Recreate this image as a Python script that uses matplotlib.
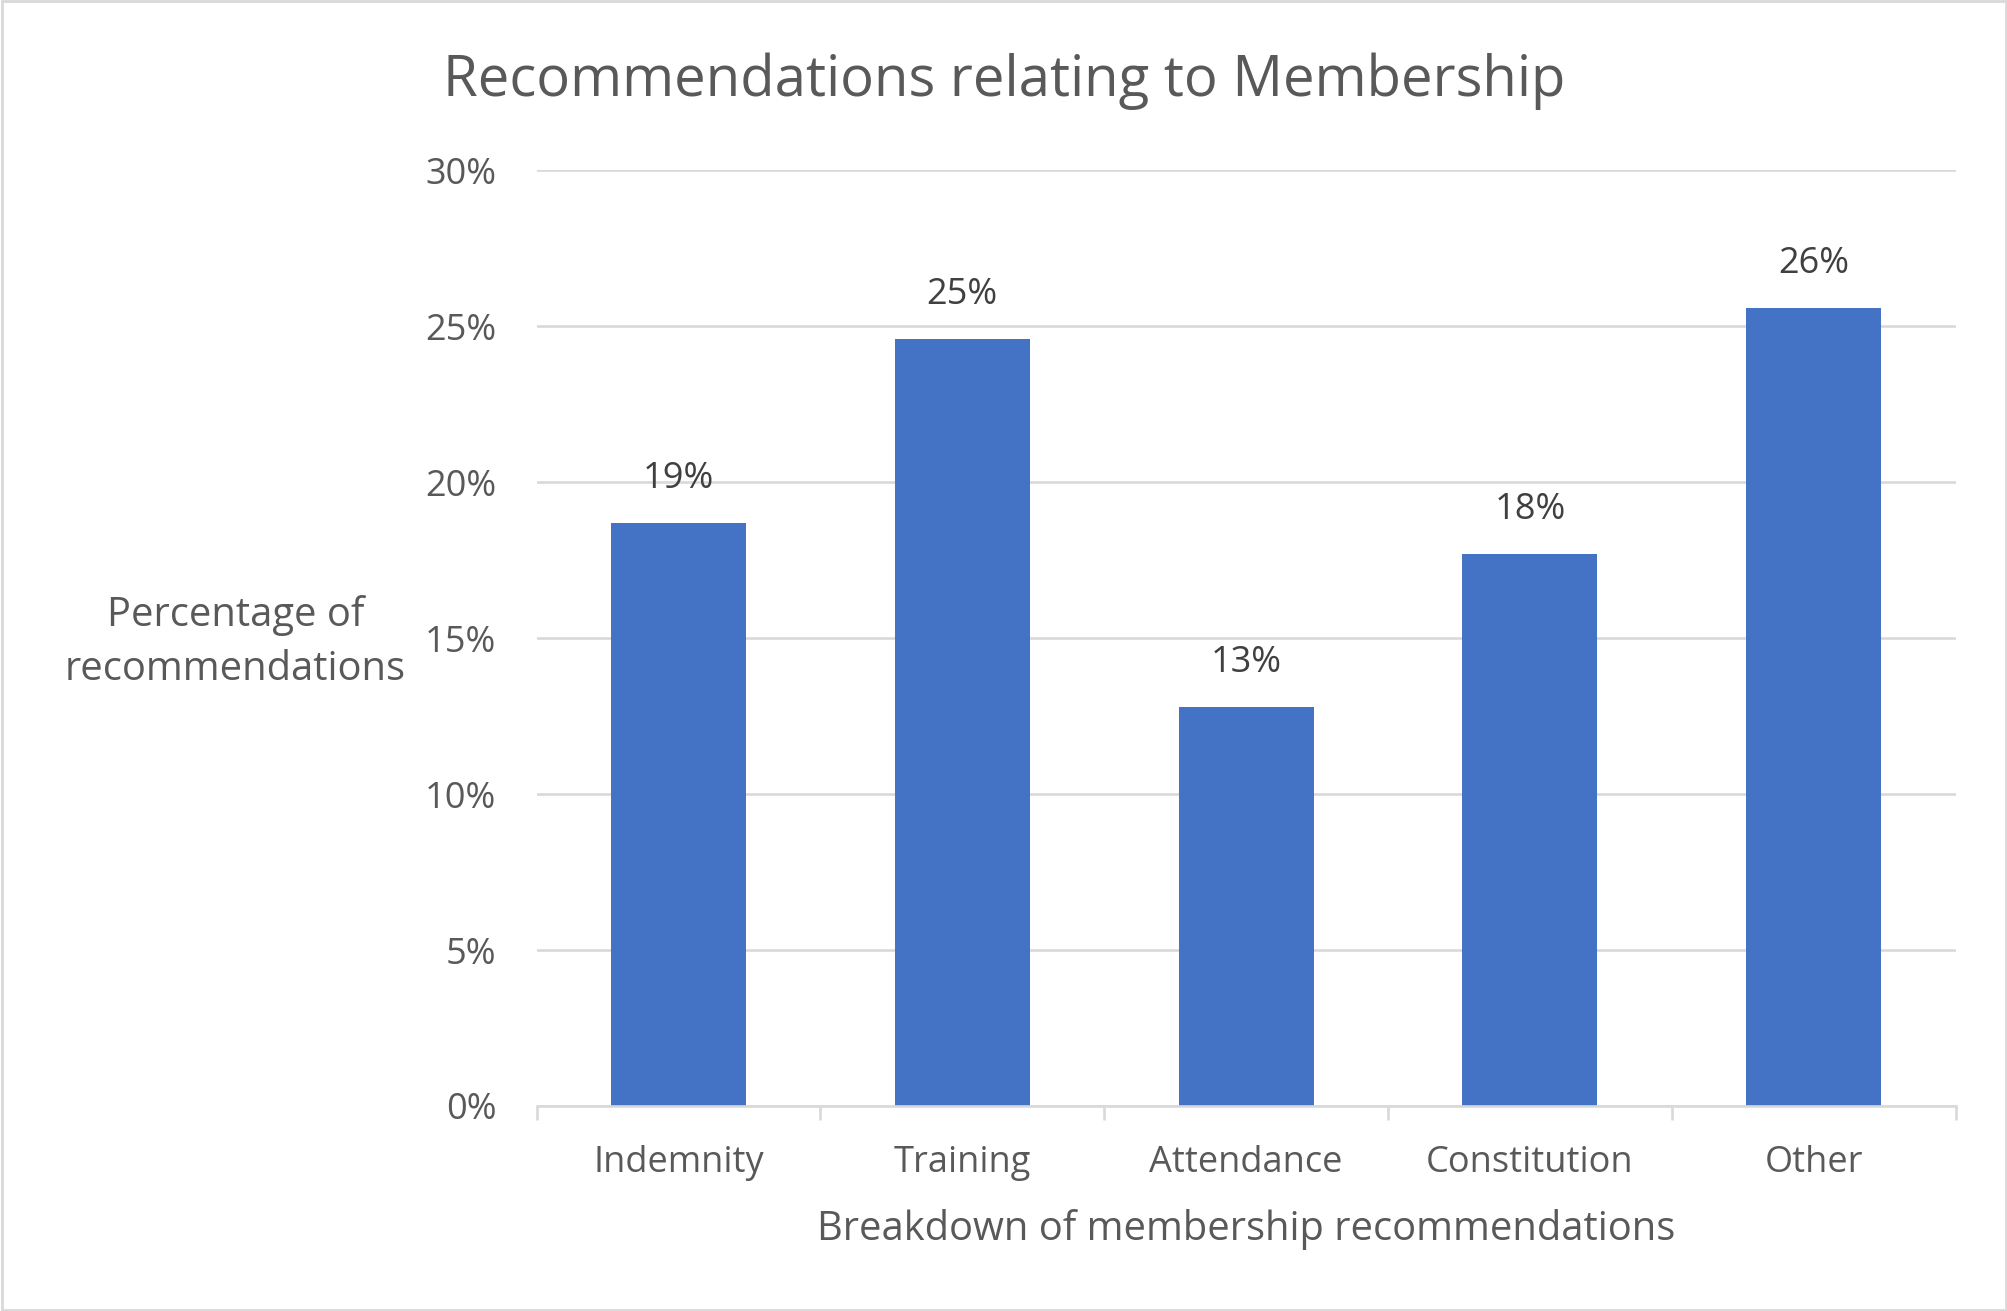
import matplotlib.pyplot as plt
from matplotlib.patches import Rectangle
import numpy as np

plt.rcParams['font.family'] = ['Open Sans', 'DejaVu Sans']

categories = ['Indemnity', 'Training', 'Attendance', 'Constitution', 'Other']
values = [18.7, 24.6, 12.8, 17.7, 25.6]
labels = ['19%', '25%', '13%', '18%', '26%']
y_ticks = [0, 5, 10, 15, 20, 25, 30]

text_grey = '#595959'
label_grey = '#404040'
grid_grey = '#D9D9D9'
bar_blue = '#4472C4'

fig = plt.figure(figsize=(20.08, 13.11), dpi=100)
ax = fig.add_axes([0.2672, 0.1564, 0.9739 - 0.2672, 0.8701 - 0.1564])

x = np.arange(len(categories))
bars = ax.bar(x, values, width=0.476, color=bar_blue, zorder=3)

for b, lab in zip(bars, labels):
    ax.annotate(lab, xy=(b.get_x() + b.get_width() / 2, b.get_height()),
                xytext=(0, 31.5), textcoords='offset points',
                ha='center', va='center', fontsize=26, color=label_grey)

ax.set_xlim(-0.5, len(categories) - 0.5)
ax.set_ylim(0, 30)
ax.set_yticks(y_ticks)
ax.set_yticklabels([f'{t}%' for t in y_ticks])
ax.yaxis.grid(True, color=grid_grey, linewidth=1.9, zorder=0)
ax.tick_params(axis='y', length=0, pad=29, labelsize=26, labelcolor=text_grey)

# category ticks sit between bars, excel style
ax.set_xticks(np.arange(-0.5, len(categories), 1.0))
ax.set_xticklabels([])
ax.set_xticks(x, minor=True)
ax.set_xticklabels(categories, minor=True)
ax.tick_params(axis='x', which='major', length=10, width=1.9, color=grid_grey)
ax.tick_params(axis='x', which='minor', length=0, pad=28, labelsize=26, labelcolor=text_grey)

for s in ['top', 'right', 'left']:
    ax.spines[s].set_visible(False)
ax.spines['bottom'].set_color(grid_grey)
ax.spines['bottom'].set_linewidth(1.9)
ax.spines['bottom'].set_zorder(4)

fig.text(0.5, 0.938, 'Recommendations relating to Membership',
         ha='center', va='center', fontsize=40.5, color=text_grey)
fig.text(0.1173, 0.510, 'Percentage of\nrecommendations', ha='center', va='center',
         fontsize=28.7, color=text_grey, linespacing=1.45)
fig.text(0.6205, 0.062, 'Breakdown of membership recommendations',
         ha='center', va='center', fontsize=28.7, color=text_grey)

fig.patches.append(Rectangle((0.001, 0.001), 0.998, 0.998, transform=fig.transFigure,
                             fill=False, edgecolor=grid_grey, linewidth=2))

fig.savefig('out.png', dpi=100, facecolor='white')
